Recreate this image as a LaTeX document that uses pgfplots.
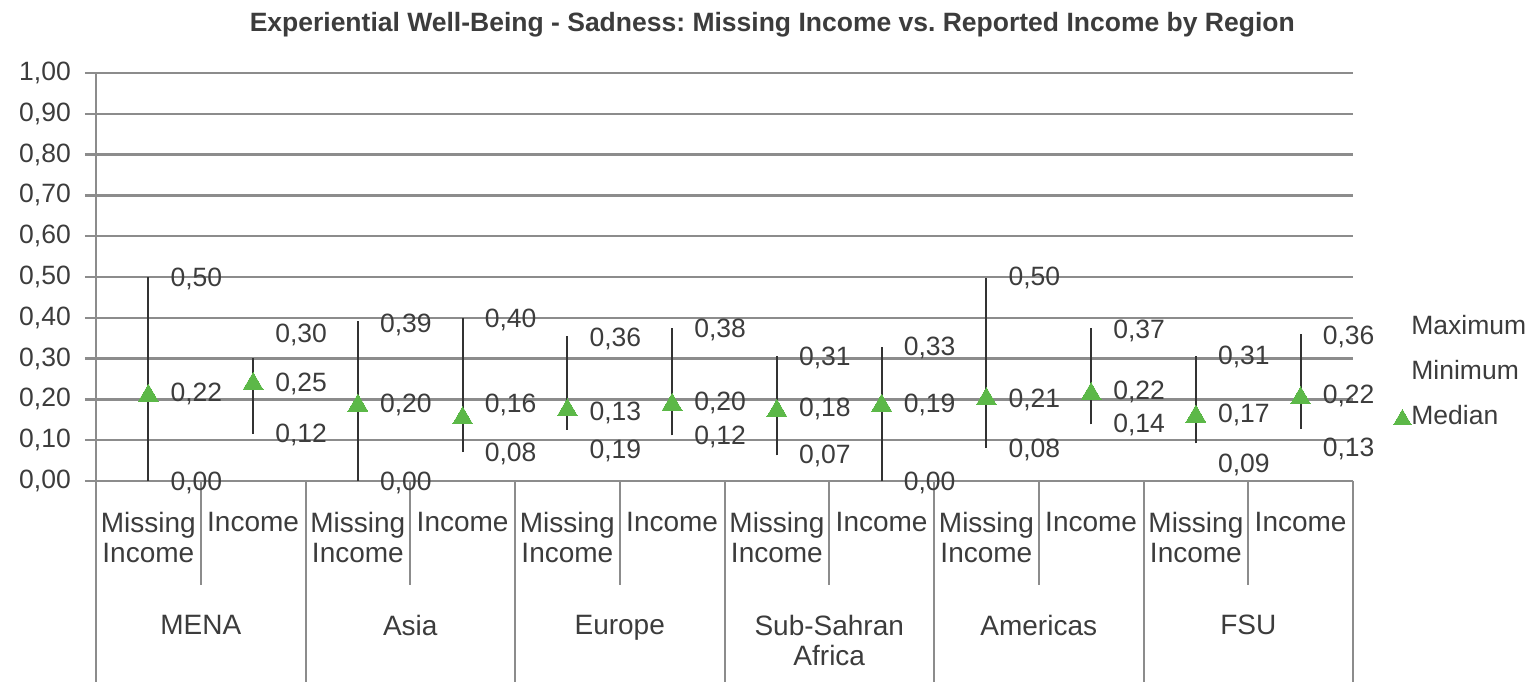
\documentclass[border=0pt]{standalone}
\usepackage{pgfplots}
\pgfplotsset{compat=1.18}
\usepackage{pgfplotstable}
\usepackage{fontspec}
\setmainfont{Liberation Sans}
\definecolor{txt}{RGB}{60,60,60}
\definecolor{gridc}{RGB}{140,140,140}
\definecolor{linec}{RGB}{50,50,50}
\definecolor{medg}{RGB}{92,184,72}

\pgfplotstableread{
x y
0 0.000
0 0.500
0 nan
1 0.116
1 0.302
1 nan
2 0.000
2 0.391
2 nan
3 0.071
3 0.400
3 nan
4 0.126
4 0.356
4 nan
5 0.112
5 0.375
5 nan
6 0.063
6 0.307
6 nan
7 0.000
7 0.329
7 nan
8 0.082
8 0.498
8 nan
9 0.139
9 0.375
9 nan
10 0.092
10 0.307
10 nan
11 0.128
11 0.360
}\hilo

\pgfplotstableread{
x y
0 0.209
1 0.238
2 0.185
3 0.154
4 0.174
5 0.187
6 0.172
7 0.185
8 0.201
9 0.213
10 0.158
11 0.203
}\median

\pgfplotstableread{
x y label
0 0.500 0,50
1 0.362 0,30
2 0.387 0,39
3 0.399 0,40
4 0.352 0,36
5 0.374 0,38
6 0.307 0,31
7 0.331 0,33
8 0.502 0,50
9 0.372 0,37
10 0.309 0,31
11 0.358 0,36
}\labtop

\pgfplotstableread{
x y label
0 0.219 0,22
1 0.243 0,25
2 0.192 0,20
3 0.190 0,16
4 0.172 0,13
5 0.196 0,20
6 0.181 0,18
7 0.191 0,19
8 0.204 0,21
9 0.223 0,22
10 0.166 0,17
11 0.213 0,22
}\labmid

\pgfplotstableread{
x y label
0 0.000 0,00
1 0.118 0,12
2 0.000 0,00
3 0.072 0,08
4 0.078 0,19
5 0.113 0,12
6 0.066 0,07
7 0.000 0,00
8 0.080 0,08
9 0.141 0,14
10 0.043 0,09
11 0.084 0,13
}\labbot

\newcommand{\numfont}{\fontsize{26.5}{30}\selectfont}
\newcommand{\catfont}{\fontsize{28}{30}\selectfont}
\frenchspacing

\begin{document}
\begin{tikzpicture}
\begin{axis}[
  scale only axis, width=1257pt, height=408pt,
  at={(0pt,0pt)}, anchor=south west,
  xmin=-0.5, xmax=11.5, ymin=0, ymax=1,
  clip=false,
  axis x line=bottom, axis y line=left,
  axis line style={-, draw=gridc, line width=2.5pt},
  ytick={0,0.1,0.2,0.3,0.4,0.5,0.6,0.7,0.8,0.9,1.0},
  ymajorgrids, grid style={draw=gridc, line width=2.5pt},
  tick align=outside, major tick length=11pt,
  y tick style={draw=gridc, line width=2.5pt},
  yticklabel style={font=\numfont, text=txt, inner sep=0pt, xshift=-14pt},
  /pgf/number format/.cd, use comma, fixed, fixed zerofill, precision=2, assume math mode=true, /pgfplots/.cd,
  xtick={0,1,2,3,4,5,6,7,8,9,10,11},
  xticklabels={Missing\\Income, Income, Missing\\Income, Income, Missing\\Income, Income, Missing\\Income, Income, Missing\\Income, Income, Missing\\Income, Income},
  major x tick style={draw=none},
  xticklabel style={align=center, anchor=north, font=\catfont, text=txt, inner sep=0pt, yshift=-20pt},
  minor xtick={0.5,2.5,4.5,6.5,8.5,10.5},
  minor tick length=104pt,
  minor x tick style={draw=gridc, line width=2pt},
  extra x ticks={-0.5,1.5,3.5,5.5,7.5,9.5,11.5},
  extra x tick labels={},
  extra x tick style={major tick length=201pt, major x tick style={draw=gridc, line width=2pt}},
  title={Experiential Well-Being - Sadness: Missing Income vs. Reported Income by Region},
  title style={at={(0.538,1)}, anchor=center, yshift=42pt, font=\bfseries\fontsize{26.5}{30}\selectfont, text=txt},
  legend style={at={(1.028,0.41)}, anchor=north west, draw=none, fill=none, font=\numfont, text=txt,
    row sep=26pt, nodes={inner sep=0pt, text height=19pt, text depth=0pt}},
  legend cell align=left,
]
\addplot[draw=linec, line width=2pt, unbounded coords=jump, forget plot] table[x=x, y=y] {\hilo};
\addlegendimage{legend image code/.code={\path[draw=none, fill=none] (0pt,-5pt) rectangle (20pt,5pt);}}
\addlegendentry{Maximum}
\addlegendimage{legend image code/.code={\path[draw=none, fill=none] (0pt,-5pt) rectangle (20pt,5pt);}}
\addlegendentry{Minimum}
\addplot[medg, only marks, mark=triangle*, mark size=11.5pt, mark options={solid, draw=medg, fill=medg, line width=0pt},
  legend image code/.code={\path[draw=none, fill=none] (0pt,-5pt) rectangle (20pt,5pt); \path[draw=none, mark=triangle*, mark size=10pt, mark options={draw=medg, fill=medg, line width=0pt}] plot coordinates {(11pt,-4pt)};}]
  table[x=x, y=y] {\median};
\addlegendentry{Median}
\addplot[draw=none, mark=none, nodes near coords, point meta=explicit symbolic, forget plot,
  nodes near coords style={anchor=base west, inner sep=0pt, xshift=22pt, yshift=-9.5pt, font=\numfont, text=txt}]
  table[x=x, y=y, meta=label] {\labtop};
\addplot[draw=none, mark=none, nodes near coords, point meta=explicit symbolic, forget plot,
  nodes near coords style={anchor=base west, inner sep=0pt, xshift=22pt, yshift=-9.5pt, font=\numfont, text=txt}]
  table[x=x, y=y, meta=label] {\labmid};
\addplot[draw=none, mark=none, nodes near coords, point meta=explicit symbolic, forget plot,
  nodes near coords style={anchor=base west, inner sep=0pt, xshift=22pt, yshift=-9.5pt, font=\numfont, text=txt}]
  table[x=x, y=y, meta=label] {\labbot};
\node[anchor=north, inner sep=0pt, font=\catfont, text=txt, align=center] at (axis cs:0.5,0) [yshift=-134pt] {MENA};
\node[anchor=north, inner sep=0pt, font=\catfont, text=txt, align=center] at (axis cs:2.5,0) [yshift=-134pt] {Asia};
\node[anchor=north, inner sep=0pt, font=\catfont, text=txt, align=center] at (axis cs:4.5,0) [yshift=-134pt] {Europe};
\node[anchor=north, inner sep=0pt, font=\catfont, text=txt, align=center] at (axis cs:6.5,0) [yshift=-134pt] {Sub-Sahran\\Africa};
\node[anchor=north, inner sep=0pt, font=\catfont, text=txt, align=center] at (axis cs:8.5,0) [yshift=-134pt] {Americas};
\node[anchor=north, inner sep=0pt, font=\catfont, text=txt, align=center] at (axis cs:10.5,0) [yshift=-134pt] {FSU};
\end{axis}
\pgfresetboundingbox
\path (-96pt,-201pt) rectangle (1438pt,481pt);
\end{tikzpicture}
\end{document}
